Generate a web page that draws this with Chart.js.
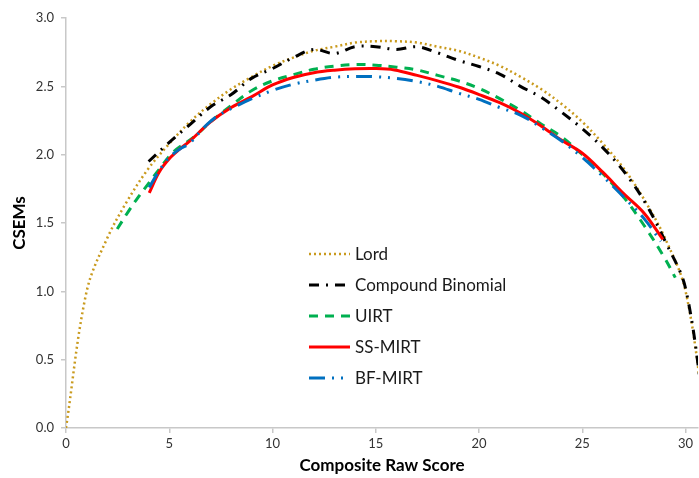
<!DOCTYPE html>
<html>
<head>
<meta charset="utf-8">
<script src="https://cdn.jsdelivr.net/npm/chart.js@4/dist/chart.umd.min.js"></script>
<style>
  html, body { margin: 0; padding: 0; background: #ffffff; }
  #wrap { width: 699px; height: 478px; position: relative; }
</style>
</head>
<body>
<div id="wrap"><canvas id="c" width="699" height="478"></canvas></div>
<script>
// ---- data ----
const seriesNames = ["Lord", "Compound Binomial", "UIRT", "SS-MIRT", "BF-MIRT"];

const lordX = [0,1,2,3,4,5,6,7,8,9,10,11,12,13,14,15,16,17,18,19,20,21,22,23,24,25,26,27,28,29,30,31];
const lordY = [0,1.00,1.39,1.67,1.90,2.08,2.24,2.37,2.48,2.57,2.65,2.71,2.76,2.79,2.82,2.83,2.83,2.82,2.79,2.76,2.71,2.65,2.57,2.48,2.37,2.24,2.08,1.90,1.67,1.39,1.00,0];

const cbX = [4,5,6,7,8,9,10,11,12,13,14,15,16,17,18,19,20,21,22,23,24,25,26,27,28,29,30,31];
const cbY = [1.95,2.09,2.22,2.35,2.44,2.56,2.63,2.71,2.77,2.74,2.79,2.79,2.77,2.79,2.745,2.69,2.645,2.59,2.50,2.42,2.31,2.19,2.05,1.88,1.66,1.37,1.02,0];

const uirtX = [2.48,3.0,3.5,4.0,4.5,5.2,6.2,7.0,8.0,9.0,10.0,11.0,12.0,13.0,14.0,15.0,16.0,17.0,18.0,19.0,20.0,21.0,22.0,23.0,24.0,25.0,26.0,27.0,28.0,29.0,29.5];
const uirtY = [1.456,1.58,1.69,1.79,1.89,2.02,2.13,2.24,2.36,2.47,2.54,2.585,2.625,2.648,2.66,2.655,2.64,2.62,2.58,2.54,2.485,2.41,2.325,2.225,2.13,2.00,1.86,1.69,1.48,1.24,1.10];

const ssX = [4.03,4.5,5.0,5.5,6.0,7.0,8.0,9.0,10.0,11.0,12.0,13.0,14.0,15.0,15.9,17.0,18.0,19.0,20.0,21.0,22.0,23.0,24.0,25.0,26.0,27.0,28.0,28.9];
const ssY = [1.72,1.87,1.97,2.04,2.10,2.24,2.345,2.425,2.51,2.565,2.60,2.618,2.628,2.63,2.62,2.58,2.54,2.495,2.44,2.38,2.305,2.21,2.105,2.01,1.87,1.715,1.57,1.38];

const bfX = [4.03,4.5,5.0,5.5,6.0,6.65,7.3,8.1,9.0,10.0,11.0,12.0,13.0,14.0,15.0,16.0,17.0,18.0,19.0,20.0,21.0,22.0,23.0,24.0,25.0,26.0,27.0,28.0,28.8];
const bfY = [1.76,1.88,1.98,2.04,2.085,2.195,2.28,2.345,2.41,2.47,2.515,2.545,2.567,2.572,2.57,2.558,2.535,2.50,2.45,2.405,2.345,2.29,2.20,2.10,1.98,1.84,1.69,1.53,1.365];

const xTickValues = [0,5,10,15,20,25,30];
const yTickValues = [0,0.5,1.0,1.5,2.0,2.5,3.0];
const xTitle = "Composite Raw Score";
const yTitle = "CSEMs";

// ---- build ----
const pts = (xs, ys) => xs.map((x, i) => ({ x: x, y: ys[i] }));
const FONT = "Lato, 'Open Sans', sans-serif";

const styles = [
  { color: "#C99A1D", width: 2.5, dash: [2, 3] },
  { color: "#000000", width: 3, dash: [10, 7, 2, 7] },
  { color: "#00B050", width: 3, dash: [9, 7] },
  { color: "#FF0000", width: 3, dash: [] },
  { color: "#0070C0", width: 3, dash: [16, 7, 2, 7, 2, 7] }
];
const series = [pts(lordX, lordY), pts(cbX, cbY), pts(uirtX, uirtY), pts(ssX, ssY), pts(bfX, bfY)];

const datasets = series.map((d, i) => ({
  label: seriesNames[i],
  data: d,
  borderColor: styles[i].color,
  backgroundColor: styles[i].color,
  borderWidth: styles[i].width,
  borderDash: styles[i].dash,
  borderCapStyle: "butt",
  pointRadius: 0,
  pointHoverRadius: 0,
  tension: 0.35,
  fill: false
})).reverse();

const legendPlugin = {
  id: "insideLegend",
  afterDatasetsDraw(chart) {
    const ctx = chart.ctx;
    const x0 = 309, x1 = 350, tx = 355, y0 = 254, dy = 31;
    ctx.save();
    seriesNames.forEach((name, i) => {
      const y = y0 + i * dy;
      const s = styles[i];
      ctx.beginPath();
      ctx.strokeStyle = s.color;
      ctx.lineWidth = s.width;
      ctx.lineCap = "butt";
      ctx.setLineDash(s.dash);
      ctx.moveTo(x0, y);
      ctx.lineTo(x1, y);
      ctx.stroke();
      ctx.setLineDash([]);
      ctx.fillStyle = "#1a1a1a";
      ctx.font = "17px " + FONT;
      ctx.textAlign = "left";
      ctx.textBaseline = "middle";
      ctx.fillText(name, tx, y + 1);
    });
    ctx.restore();
  }
};

new Chart(document.getElementById("c"), {
  type: "line",
  data: { datasets: datasets },
  options: {
    responsive: false,
    animation: false,
    events: [],
    layout: { padding: { top: 18, right: 1, bottom: 0, left: 0 } },
    plugins: { legend: { display: false }, tooltip: { enabled: false } },
    scales: {
      x: {
        type: "linear",
        min: 0,
        max: 30.6,
        afterBuildTicks(scale) { scale.ticks = xTickValues.map(v => ({ value: v })); },
        afterFit(scale) { scale.height = 50; },
        border: { display: true, color: "#C8C8C8", width: 1.5 },
        grid: { display: true, drawOnChartArea: false, drawTicks: true, tickLength: 5, color: "#C8C8C8", lineWidth: 1.5 },
        ticks: { padding: 3, color: "#333333", font: { family: FONT, size: 13 }, maxRotation: 0, callback: v => String(v) },
        title: { display: true, text: xTitle, color: "#000000", font: { family: FONT, size: 17, weight: "bold" }, padding: { top: 0, bottom: 2 } }
      },
      y: {
        type: "linear",
        min: 0,
        max: 3.0,
        afterBuildTicks(scale) { scale.ticks = yTickValues.map(v => ({ value: v })); },
        afterFit(scale) { scale.width = 66; },
        border: { display: true, color: "#C8C8C8", width: 1.5 },
        grid: { display: true, drawOnChartArea: false, drawTicks: true, tickLength: 5, color: "#C8C8C8", lineWidth: 1.5 },
        ticks: { padding: 7, color: "#333333", font: { family: FONT, size: 13 }, callback: v => Number(v).toFixed(1) },
        title: { display: true, text: yTitle, color: "#000000", font: { family: FONT, size: 17, weight: "bold" }, padding: { top: 9, bottom: 0 } }
      }
    }
  },
  plugins: [legendPlugin]
});
</script>
</body>
</html>
